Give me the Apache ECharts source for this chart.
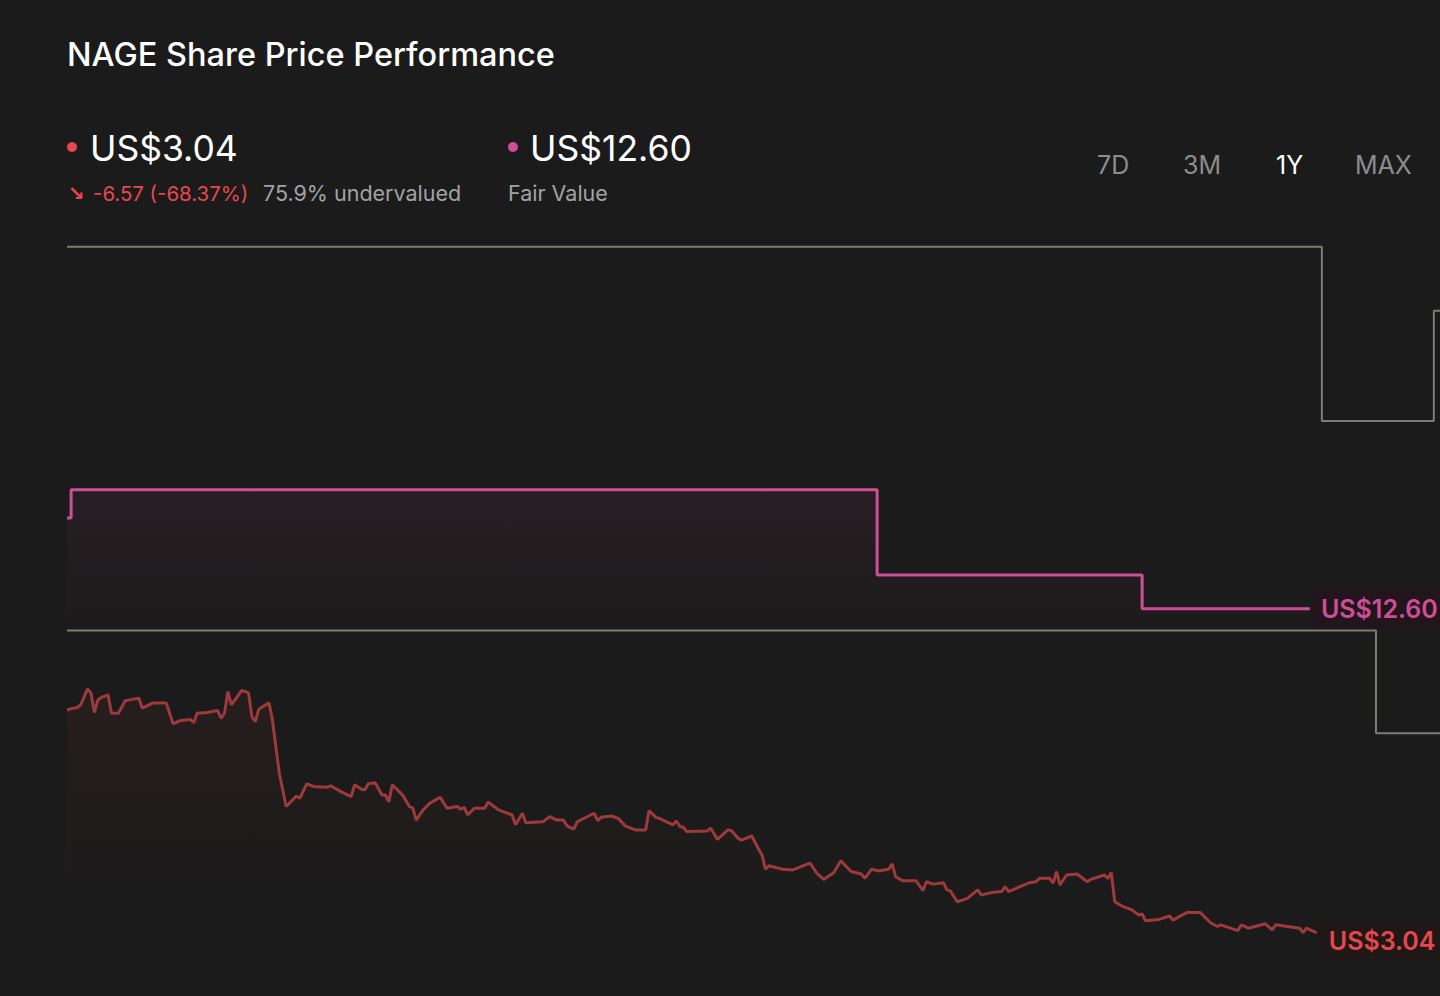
<!DOCTYPE html>
<html>
<head>
<meta charset="utf-8">
<title>NAGE Share Price Performance</title>
<script src="https://cdn.jsdelivr.net/npm/echarts@6/dist/echarts.min.js"></script>
<style>
  html, body { margin: 0; padding: 0; background: #1b1b1b; }
  #chart { width: 1440px; height: 996px; }
</style>
</head>
<body>
<div id="chart"></div>
<script>
// share price, [day of period, US$]
const priceHistory = [
  [0, 9.61], [1, 9.65], [3, 9.69], [4, 9.77], [6, 10.24], [7, 10.12], [8, 9.54], [9, 9.91],
  [10, 9.99], [12, 10.06], [13, 9.52], [15, 9.52], [17, 9.89], [19, 9.93], [21, 9.96], [22, 9.67],
  [25, 9.82], [29, 9.82], [31, 9.21], [33, 9.30], [36, 9.34], [37, 9.24], [38, 9.52], [41, 9.54],
  [44, 9.60], [45, 9.37], [46, 9.52], [47, 10.16], [48, 9.77], [51, 10.19], [53, 10.13], [54, 9.42],
  [55, 9.27], [56, 9.64], [59, 9.83], [60, 9.32], [62, 7.75], [64, 6.77], [67, 7.08], [68, 7.01],
  [70, 7.44], [72, 7.36], [76, 7.34], [77, 7.38], [80, 7.21], [83, 7.06], [84, 7.41], [86, 7.28],
  [87, 7.26], [88, 7.44], [90, 7.47], [92, 7.11], [93, 7.11], [94, 6.91], [95, 7.41], [98, 7.11],
  [100, 6.77], [101, 6.72], [102, 6.37], [104, 6.67], [106, 6.87], [109, 7.04], [111, 6.72], [114, 6.77],
  [115, 6.69], [116, 6.75], [117, 6.52], [119, 6.72], [122, 6.72], [123, 6.90], [125, 6.75], [126, 6.67],
  [130, 6.52], [131, 6.23], [133, 6.57], [134, 6.29], [139, 6.32], [141, 6.47], [143, 6.37], [145, 6.37],
  [146, 6.20], [148, 6.10], [149, 6.32], [154, 6.57], [155, 6.35], [156, 6.45], [159, 6.49], [161, 6.42],
  [163, 6.20], [166, 6.08], [169, 6.08], [170, 6.65], [172, 6.45], [173, 6.42], [177, 6.23], [178, 6.34],
  [179, 6.18], [180, 6.16], [181, 6.03], [187, 6.05], [188, 6.13], [190, 5.80], [193, 6.08], [194, 6.06],
  [196, 5.83], [197, 5.78], [200, 5.90], [202, 5.51], [203, 5.34], [204, 4.92], [205, 5.02], [209, 4.92],
  [212, 4.90], [214, 4.98], [217, 5.10], [219, 4.80], [221, 4.62], [224, 4.82], [226, 5.17], [229, 4.85],
  [232, 4.78], [233, 4.65], [235, 4.92], [237, 4.87], [240, 4.92], [241, 5.08], [242, 4.70], [244, 4.58],
  [248, 4.58], [250, 4.29], [251, 4.55], [253, 4.48], [256, 4.52], [257, 4.31], [258, 4.28], [260, 3.96],
  [263, 4.06], [266, 4.31], [267, 4.16], [270, 4.23], [273, 4.26], [274, 4.41], [275, 4.26], [278, 4.39],
  [281, 4.52], [283, 4.55], [284, 4.65], [287, 4.65], [288, 4.51], [289, 4.85], [290, 4.46], [292, 4.75],
  [295, 4.78], [298, 4.55], [299, 4.62], [303, 4.75], [304, 4.65], [305, 4.82], [306, 3.96], [308, 3.84],
  [311, 3.72], [313, 3.57], [314, 3.60], [315, 3.40], [319, 3.44], [322, 3.54], [323, 3.42], [327, 3.64],
  [331, 3.64], [334, 3.34], [336, 3.23], [337, 3.28], [342, 3.11], [343, 3.28], [345, 3.18], [350, 3.31],
  [352, 3.13], [353, 3.28], [360, 3.18], [361, 3.05], [362, 3.18], [365, 3.04]
];

// fair value estimate changes
const fairValueSteps = [[0, 15.28], [1.2, 16.11], [236.6, 13.60], [314, 12.60], [363, 12.60]];
// gray band lines
const upperBandSteps = [[0, 23.28], [366.5, 18.14], [399.2, 21.39], [401, 21.39]];
const lowerBandSteps = [[0, 11.96], [382.3, 8.93], [401, 8.93]];

const headline = {
  price: 'US$3.04',
  change: '-6.57 (-68.37%)',
  discount: '75.9% undervalued',
  fairValue: 'US$12.60'
};
const periods = ['7D', '3M', '1Y', 'MAX'];
const activePeriod = '1Y';

const FONT = 'Inter, "Noto Sans", sans-serif';
const RED = '#e5484d';
const PINK = '#cf4f96';
const GRAY_LINE = '#7f7d70';

let chart = echarts.init(document.getElementById('chart'), null, { renderer: 'svg' });

const periodX = [1097, 1183, 1276, 1355];

var option = {
  backgroundColor: '#1b1b1b',
  animation: false,
  textStyle: { fontFamily: FONT },
  grid: { left: 67, right: 0, top: 0, bottom: 0, containLabel: false },
  xAxis: {
    type: 'value',
    min: 0,
    max: 401,
    show: false
  },
  yAxis: {
    type: 'value',
    min: 1.18,
    max: 30.56,
    show: false,
    splitLine: { show: false }
  },
  graphic: [
    {
      type: 'text', x: 67, y: 54,
      style: { text: 'NAGE Share Price Performance', fill: '#ffffff', fontSize: 32.5, fontWeight: 500, fontFamily: FONT, verticalAlign: 'middle' }
    },
    { type: 'circle', shape: { cx: 72, cy: 147, r: 5 }, style: { fill: RED } },
    {
      type: 'text', x: 90, y: 148,
      style: { text: headline.price, fill: '#ffffff', fontSize: 35.5, fontFamily: FONT, verticalAlign: 'middle' }
    },
    {
      type: 'text', x: 68, y: 193,
      style: { text: '↘', fill: RED, fontSize: 20, fontWeight: 700, fontFamily: '"DejaVu Sans", sans-serif', verticalAlign: 'middle' }
    },
    {
      type: 'text', x: 93, y: 193,
      style: { text: headline.change, fill: RED, fontSize: 20.4, fontFamily: FONT, verticalAlign: 'middle' }
    },
    {
      type: 'text', x: 263, y: 193,
      style: { text: headline.discount, fill: '#a3a3a3', fontSize: 21.5, fontFamily: FONT, verticalAlign: 'middle' }
    },
    { type: 'circle', shape: { cx: 513, cy: 147, r: 5 }, style: { fill: PINK } },
    {
      type: 'text', x: 530, y: 148,
      style: { text: headline.fairValue, fill: '#ffffff', fontSize: 35.5, fontFamily: FONT, verticalAlign: 'middle' }
    },
    {
      type: 'text', x: 508, y: 193,
      style: { text: 'Fair Value', fill: '#a3a3a3', fontSize: 21.5, fontFamily: FONT, verticalAlign: 'middle' }
    }
  ].concat(periods.map(function (p, i) {
    return {
      type: 'text', x: periodX[i], y: 165,
      style: {
        text: p,
        fill: p === activePeriod ? '#ffffff' : '#8d8d8d',
        fontSize: 25,
        fontFamily: FONT,
        verticalAlign: 'middle'
      }
    };
  })),
  series: [
    {
      name: 'Upper band',
      type: 'line',
      step: 'end',
      symbol: 'none',
      silent: true,
      lineStyle: { color: GRAY_LINE, width: 2 },
      data: upperBandSteps
    },
    {
      name: 'Lower band',
      type: 'line',
      step: 'end',
      symbol: 'none',
      silent: true,
      lineStyle: { color: GRAY_LINE, width: 2 },
      data: lowerBandSteps
    },
    {
      name: 'Fair Value',
      type: 'line',
      step: 'end',
      symbol: 'none',
      lineStyle: { color: PINK, width: 3 },
      areaStyle: {
        origin: 'start',
        color: new echarts.graphic.LinearGradient(0, 0, 0, 1, [
          { offset: 0, color: 'rgba(205,70,140,0.10)' },
          { offset: 0.3, color: 'rgba(205,70,140,0)' }
        ])
      },
      endLabel: {
        show: true,
        formatter: function (p) { return 'US$' + p.value[1].toFixed(2); },
        color: PINK,
        fontSize: 25,
        fontWeight: 600,
        fontFamily: FONT,
        distance: 3,
        backgroundColor: 'rgba(35,20,28,0.85)',
        padding: [7, 8, 7, 8]
      },
      data: fairValueSteps
    },
    {
      name: 'Share Price',
      type: 'line',
      symbol: 'none',
      lineStyle: { color: '#9e3a3b', width: 3 },
      areaStyle: {
        origin: 'start',
        color: new echarts.graphic.LinearGradient(0, 0, 0, 1, [
          { offset: 0, color: 'rgba(160,50,55,0.13)' },
          { offset: 0.72, color: 'rgba(160,50,55,0)' }
        ])
      },
      endLabel: {
        show: true,
        formatter: function (p) { return 'US$' + p.value[1].toFixed(2); },
        color: RED,
        fontSize: 25,
        fontWeight: 600,
        fontFamily: FONT,
        distance: 2,
        offset: [0, 8],
        backgroundColor: 'rgba(33,22,22,0.85)',
        padding: [7, 10, 7, 10]
      },
      data: priceHistory
    }
  ]
};

chart.setOption(option);
</script>
</body>
</html>
